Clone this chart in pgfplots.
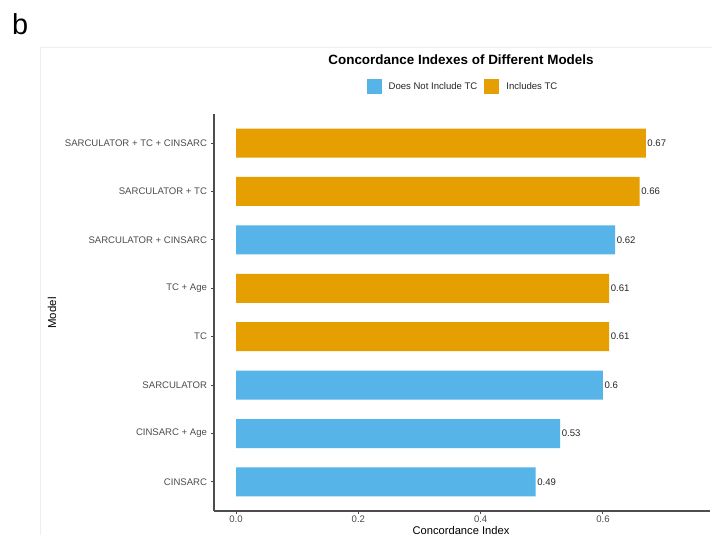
\documentclass[border=0pt]{standalone}
\usepackage{fontspec}
\setmainfont{Liberation Sans}
\usepackage{pgfplots}
\pgfplotsset{compat=1.18}

\definecolor{noTC}{HTML}{56B4E9}
\definecolor{withTC}{HTML}{E69F00}
\definecolor{axisgray}{HTML}{4D4D4D}
\definecolor{framegray}{HTML}{EEEEEE}

\pgfplotsset{
  /pgf/number format/assume math mode=true,
  squarekey/.style={legend image code/.code={\fill[##1] (0bp,-7.5bp) rectangle (15bp,7.5bp);}},
}

\begin{document}
\begin{tikzpicture}
\useasboundingbox (0,0) rectangle (712bp,535bp);
\fill[white] (0,0) rectangle (712bp,535bp);
\draw[framegray, line width=0.8bp] (40bp,0) -- (40bp,488bp) -- (712bp,488bp);
\node[anchor=base west, inner sep=0pt, font=\fontsize{29}{34}\selectfont] at (12bp,500bp) {b};
\node[anchor=base, inner sep=0pt, font=\bfseries\fontsize{13.5}{16}\selectfont] at (461bp,470bp) {Concordance Indexes of Different Models};
\node[anchor=base, inner sep=0pt, font=\fontsize{11.2}{14}\selectfont] at (461bp,0.8bp) {Concordance Index};
\node[anchor=center, rotate=90, inner sep=0pt, font=\fontsize{11.5}{14}\selectfont] at (52bp,222bp) {Model};

\begin{axis}[
  at={(214bp,24bp)}, anchor=south west,
  scale only axis, width=496bp, height=397bp,
  xmin=-0.036, xmax=0.775, ymin=0.4, ymax=8.6,
  axis x line=bottom, axis y line=left,
  axis line style={axisgray, line width=1.1bp, -},
  tick align=outside, major tick length=3.5bp,
  tick style={axisgray, line width=1bp},
  xtick={0,0.2,0.4,0.6}, xticklabels={0.0,0.2,0.4,0.6},
  ytick={1,...,8},
  yticklabels={CINSARC, CINSARC + Age, SARCULATOR, TC, TC + Age,
    SARCULATOR + CINSARC, SARCULATOR + TC, SARCULATOR + TC + CINSARC},
  tick label style={font=\fontsize{9.6}{11}\selectfont, text=axisgray},
  xticklabel style={inner sep=1.5bp},
  xbar, bar width=0.6, bar shift=0pt,
  point meta=x,
  nodes near coords={\pgfmathprintnumber[fixed, precision=2]{\pgfplotspointmeta}},
  every node near coord/.append style={anchor=west, inner sep=1.5bp,
    font=\fontsize{9.6}{11}\selectfont, text=black!85},
  legend columns=2,
  legend style={at={(0.5,1)}, anchor=center, yshift=27bp, draw=none, fill=none,
    font=\fontsize{9.6}{11}\selectfont, text=black!85,
    nodes={inner sep=0pt},
    /tikz/every odd column/.append style={column sep=7bp},
    /tikz/every even column/.append style={column sep=7bp}},
  clip=false,
]
% models without TC
\addplot[fill=noTC, draw=none, squarekey] coordinates {
  (0.49,1) (0.53,2) (0.60,3) (0.62,6)
};
\addlegendentry{Does Not Include TC}
% models with TC
\addplot[fill=withTC, draw=none, squarekey] coordinates {
  (0.61,4) (0.61,5) (0.66,7) (0.67,8)
};
\addlegendentry{Includes TC}
\end{axis}
\end{tikzpicture}
\end{document}
